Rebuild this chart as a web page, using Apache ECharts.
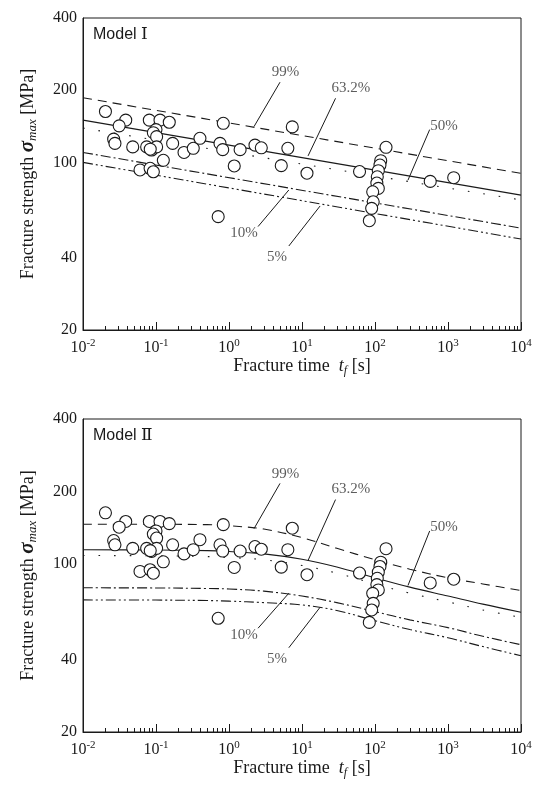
<!DOCTYPE html>
<html><head><meta charset="utf-8">
<script src="https://cdn.jsdelivr.net/npm/echarts@6/dist/echarts.min.js"></script>
<style>html,body{margin:0;padding:0;background:#fff}#c{width:541px;height:787px}</style>
</head><body><div id="c"></div>
<script>
// ---------- data ----------
const fractureTime = [0.0203,0.0385,0.0313,0.0263,0.0274,0.048,0.0604,0.081,0.1135,0.152,0.1,0.092,0.102,0.0745,0.087,0.102,0.0834,0.169,0.126,0.083,0.092,0.242,0.324,0.40,0.835,0.753,0.82,1.18,1.42,2.27,2.77,5.2,7.36,6.4,11.7,61.4,141.6,119.7,117,111,107.5,106,111,93,94.5,90,83.6,0.711,571,1197];
const fractureStrength = [163,150,142,125,120,116,93,150,150,147,137,133,128,116,112.6,116,113.5,120,102,94.5,91.4,110,114.5,126,145.5,120,113,96.6,113,118,115,96.9,140.6,114.5,90.1,91.6,115.6,101.6,97.5,92.3,87.1,82,77.9,75.4,68.5,64.3,57.1,59.4,83.3,86.3];

// Model I : straight lines (values at t = 1e-2 s and 1e4 s)
const m1Time = [0.01, 10000];
const m1P99  = [186, 90];
const m1P632 = [150, 73];
const m1P50  = [139, 69.7];
const m1P10  = [110, 53.2];
const m1P5   = [100, 47.9];

// Model II : curves
const m2Time = [0.01,0.1,0.5,1,3,10,30,100,300,1000,3000,10000];
const m2P99  = [146,146,145.5,144,139.5,128.5,116,104,95,87.5,82.5,77.4];
const m2P632 = [114.4,114.2,113.5,112.5,110,104.5,97,87.5,80,73.5,68,62.9];
const m2P50  = [108.3,108,107.2,106.2,104,98.5,91.5,82.5,75.5,69.5,64.3,59.9];
const m2P10  = [79.5,79.4,79,78.6,77,73.5,69,63.3,58.5,54.3,50,46.1];
const m2P5   = [70.8,70.7,70.4,70,69,67.5,64,58,53.3,49.3,45.3,41.5];

// annotations
const annText = ['99%','63.2%','50%','10%','5%'];
const annX = [5.94, 46.9, 881, 1.6, 4.55];
const annY = [237, 204, 142, 50.7, 40.3];
const leadFromX = [5.0, 28.8, 561, 2.5, 6.6];
const leadFromY = [216, 185, 137, 54, 44.8];
const leadToX1 = [2.2, 12.1, 283, 6.6, 17.7];
const leadToY1 = [141, 106.4, 84.3, 76.7, 65.8];
const leadToX2 = [2.2, 12.1, 283, 6.6, 17.7];
const leadToY2 = [140, 103.3, 81.3, 75.5, 66];

// axis ticks / labels
const xMajor = [0.01,0.1,1,10,100,1000,10000];
const xMinorMult = [2,3,4,5,6,7,8,9];
const yLabels = [20,40,100,200,400];
const panelNames = ['Ⅰ','Ⅱ'];

// ---------- build ----------
const xMinor = [];
for (let i = 0; i < xMajor.length - 1; i++) xMinorMult.forEach(m => xMinor.push(+(m * xMajor[i]).toPrecision(3)));

const SERIF = '"Liberation Serif","DejaVu Serif","Times New Roman",serif';
const SANS = '"Liberation Sans",Arial,sans-serif';
const INK = '#1a1a1a';

const zip = (a, b) => a.map((v, i) => [v, b[i]]);

const grids = [
  {left: 83, top: 18, width: 438, height: 312},
  {left: 83, top: 419, width: 438, height: 313}
].map(g => Object.assign(g, {show: true, borderColor: INK, borderWidth: 1, backgroundColor: 'transparent'}));

function mainX(gi) {
  return {
    type: 'log', logBase: 10, min: 0.01, max: 10000, gridIndex: gi,
    axisLine: {show: true, lineStyle: {color: INK, width: 1}},
    axisTick: {show: true, inside: true, length: 8, customValues: xMajor, lineStyle: {color: INK, width: 1}},
    splitLine: {show: false}, minorTick: {show: false},
    axisLabel: {
      customValues: xMajor, margin: 8, color: INK,
      formatter: v => '{b|10}{s|' + Math.round(Math.log10(v)) + '}',
      rich: {
        b: {fontFamily: SERIF, fontSize: 16, color: INK, lineHeight: 20},
        s: {fontFamily: SERIF, fontSize: 11, color: INK, lineHeight: 11, verticalAlign: 'top'}
      }
    },
    name: '{a|Fracture time  }{i|t}{f|f}{a| [s]}',
    nameLocation: 'middle', nameGap: 25,
    nameTextStyle: {
      rich: {
        a: {fontFamily: SERIF, fontSize: 18, color: INK, lineHeight: 22},
        i: {fontFamily: SERIF, fontSize: 18, fontStyle: 'italic', color: INK, lineHeight: 22},
        f: {fontFamily: SERIF, fontSize: 12, fontStyle: 'italic', color: INK, lineHeight: 12, verticalAlign: 'bottom'}
      }
    }
  };
}
function minorX(gi) {
  return {
    type: 'log', logBase: 10, min: 0.01, max: 10000, gridIndex: gi, position: 'bottom',
    axisLine: {show: false}, axisLabel: {show: false}, splitLine: {show: false},
    axisTick: {show: true, inside: true, length: 4, customValues: xMinor, lineStyle: {color: INK, width: 1}}
  };
}
function mainY(gi) {
  return {
    type: 'log', logBase: 10, min: 20, max: 400, gridIndex: gi,
    axisLine: {show: true, lineStyle: {color: INK, width: 1}},
    axisTick: {show: false}, splitLine: {show: false}, minorTick: {show: false},
    axisLabel: {customValues: yLabels, fontFamily: SERIF, fontSize: 16, color: INK, margin: 6},
    name: '{a|Fracture strength }{g|σ}{m|max}{a| [MPa]}',
    nameLocation: 'middle', nameGap: 44, nameRotate: 90,
    nameTextStyle: {
      rich: {
        a: {fontFamily: SERIF, fontSize: 18, color: INK, lineHeight: 22},
        g: {fontFamily: SERIF, fontSize: 21, fontStyle: 'italic', fontWeight: 'bold', color: INK, lineHeight: 22},
        m: {fontFamily: SERIF, fontSize: 13, fontStyle: 'italic', color: INK, lineHeight: 13, verticalAlign: 'bottom'}
      }
    }
  };
}

const dashStyles = [[9, 6], 'solid', [1.6, 14], [10, 3, 2, 3], [10, 3, 2, 3, 2, 3]];
const series = [];
function addLines(gi, xs, ys) {
  ys.forEach((yv, k) => {
    series.push({
      type: 'line', xAxisIndex: gi, yAxisIndex: gi, data: zip(xs, yv),
      showSymbol: false, symbol: 'none', smooth: gi === 1 ? 0.35 : false, silent: true, z: 2,
      lineStyle: {color: INK, width: 1.1, type: dashStyles[k]}
    });
  });
}
addLines(0, m1Time, [m1P99, m1P632, m1P50, m1P10, m1P5]);
addLines(1, m2Time, [m2P99, m2P632, m2P50, m2P10, m2P5]);

[0, 1].forEach(gi => {
  const toX = gi === 0 ? leadToX1 : leadToX2;
  const toY = gi === 0 ? leadToY1 : leadToY2;
  series.push({
    type: 'lines', coordinateSystem: 'cartesian2d', xAxisIndex: gi, yAxisIndex: gi, silent: true, z: 3,
    lineStyle: {color: INK, width: 1, opacity: 1},
    data: annText.map((t, i) => ({coords: [[leadFromX[i], leadFromY[i]], [toX[i], toY[i]]]}))
  });
  series.push({
    type: 'scatter', xAxisIndex: gi, yAxisIndex: gi, symbolSize: 0, silent: true, z: 4,
    data: annText.map((t, i) => ({value: [annX[i], annY[i]], name: t})),
    label: {show: true, position: 'inside', formatter: p => p.name, fontFamily: SERIF, fontSize: 15, color: '#333'}
  });
  series.push({
    type: 'scatter', xAxisIndex: gi, yAxisIndex: gi, symbol: 'circle', symbolSize: 12, silent: true, z: 5,
    data: zip(fractureTime, fractureStrength),
    itemStyle: {color: '#fff', borderColor: INK, borderWidth: 1.1, opacity: 1}
  });
});

const graphic = grids.map((g, i) => ({
  type: 'text', left: 93, top: g.top + 8,
  style: {
    text: '{m|Model }{r|' + panelNames[i] + '}',
    rich: {
      m: {fontFamily: SANS, fontSize: 16, fill: INK},
      r: {fontFamily: SERIF, fontSize: 17, fill: INK}
    }
  }
}));

const chart = echarts.init(document.getElementById('c'), null, {renderer: 'canvas'});
chart.setOption({
  animation: false,
  backgroundColor: '#fff',
  grid: grids,
  xAxis: [mainX(0), mainX(1), minorX(0), minorX(1)],
  yAxis: [mainY(0), mainY(1)],
  series: series,
  graphic: graphic
});
</script></body></html>
